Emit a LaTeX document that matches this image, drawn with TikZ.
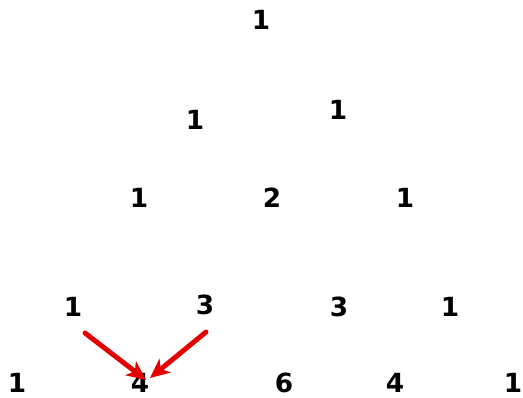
\documentclass[tikz,border=0pt]{standalone}
\usepackage{fontspec}
\setsansfont{DejaVu Sans}
\usetikzlibrary{arrows.meta,calc}

\begin{document}
\begin{tikzpicture}[
    x=0.02cm, y=-0.02cm,
    num/.style={font=\sffamily\bfseries\fontsize{15}{17}\selectfont, inner sep=0pt},
    arrow/.style={-{Stealth[length=11pt,width=10pt,inset=3pt]}, line width=2.8pt, red!90!black, line cap=round}
]
\useasboundingbox (0,0) rectangle (523,398);

% Row 0
\node[num] (r0c0) at (261,20) {1};

% Row 1
\node[num] (r1c0) at (195,120) {1};
\node[num] (r1c1) at (338,110) {1};

% Row 2
\node[num] (r2c0) at (139,198) {1};
\node[num] (r2c1) at (272,198) {2};
\node[num] (r2c2) at (405,198) {1};

% Row 3
\node[num] (r3c0) at (73,307) {1};
\node[num] (r3c1) at (205,305) {3};
\node[num] (r3c2) at (339,307) {3};
\node[num] (r3c3) at (450,307) {1};

% Row 4
\node[num] (r4c0) at (17,383) {1};
\node[num] (r4c1) at (140,383) {4};
\node[num] (r4c2) at (284,383) {6};
\node[num] (r4c3) at (395,383) {4};
\node[num] (r4c4) at (513,383) {1};

% Arrows
\coordinate (from1) at ($(r3c0)+(12,26)$);
\coordinate (from3) at ($(r3c1)+(1,27)$);
\draw[arrow] (from1) -- ($(r4c1)+(6,-3)$);
\draw[arrow] (from3) -- ($(r4c1)+(10,-5)$);

\end{tikzpicture}
\end{document}
